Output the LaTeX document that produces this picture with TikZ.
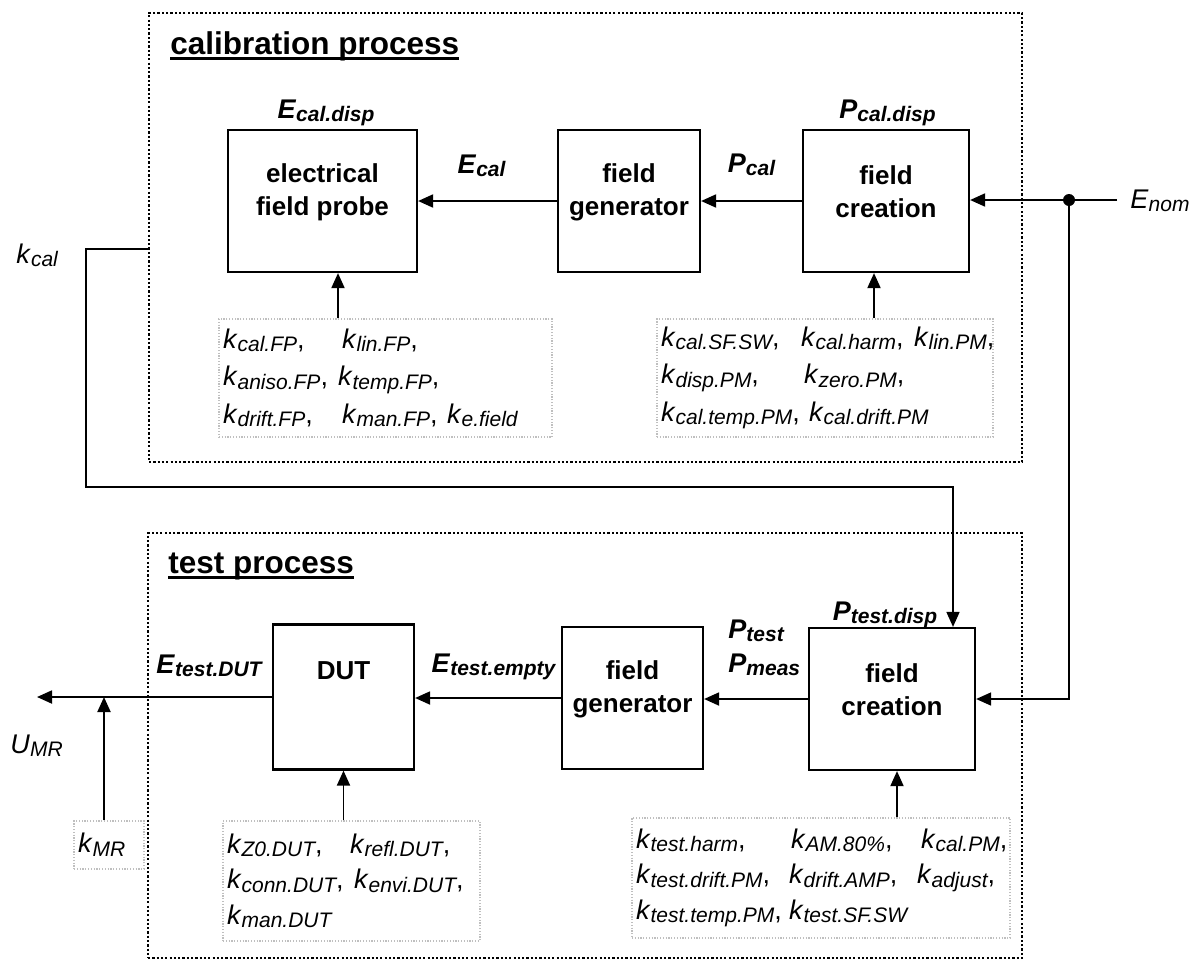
\documentclass[tikz,border=0pt]{standalone}
\usepackage{fontspec}
\setmainfont{Liberation Sans}
\usetikzlibrary{arrows.meta}
\newcommand{\ksym}[2]{\textit{#1}\raisebox{-1.8pt}{\fontsize{10.5}{12}\selectfont\itshape #2}}
\newcommand{\bsym}[2]{\textbf{\textit{#1}}\raisebox{-1.8pt}{\fontsize{10.5}{12}\selectfont\bfseries\itshape #2}}
\newcommand{\titleul}[1]{\setbox0\hbox{#1}\rlap{\rule[-3pt]{\wd0}{1.5pt}}\box0}

\begin{document}
\begin{tikzpicture}[x=0.5pt, y=-0.5pt, >={Triangle[length=7.5pt,width=6.5pt]},
		every node/.style={font=\fontsize{13.5}{18.75}\selectfont},
		blk/.style={draw, line width=1.1pt, minimum height=71pt, inner sep=0pt},
		blktext/.style={font=\fontsize{13}{16.5}\selectfont\bfseries, align=center},
		kbox/.style={draw=gray!50, line width=0.6pt, dash pattern=on 0.6pt off 0.8pt, align=left, inner xsep=2pt, inner ysep=0pt},
		frm/.style={draw, line width=1.1pt, dash pattern=on 1.1pt off 1.05pt, inner sep=0pt},
		conn/.style={->, line width=0.95pt},
		wire/.style={line width=0.8pt},
		ttl/.style={anchor=base west, inner sep=0pt, font=\fontsize{15.75}{18}\selectfont\bfseries}]
			\useasboundingbox (0,0) rectangle (1199,960);

			% Frames
			\node[frm, minimum width=436.5pt, minimum height=224.5pt] (calfrm) at (585.5,237.5) {};
			\node[frm, minimum width=437pt, minimum height=212.5pt] (testfrm) at (585,745.5) {};
			\node[ttl] (caltitle) at (170,54) {\titleul{calibration process}};
			\node[ttl] (testtitle) at (168,573) {\titleul{test process}};

			% Calibration blocks
			\node[blk, minimum width=94.5pt, label={[blktext, yshift=4.2pt]center:{electrical\\field probe}}] (probe) at (322.5,201) {};
			\node[blk, minimum width=71pt, label={[blktext, yshift=4.5pt]center:{field\\generator}}] (calgen) at (629,201) {};
			\node[blk, minimum width=83pt, label={[blktext, yshift=4.5pt]center:{field\\creation}}] (calcre) at (886,201) {};

			% Test blocks
			\node[blk, minimum width=70.5pt, minimum height=72.5pt, label={[blktext, yshift=13pt]center:{DUT}}] (dut) at (343.5,697) {};
			\node[blk, minimum width=70.5pt, label={[blktext, yshift=4.5pt]center:{field\\generator}}] (testgen) at (632.5,698) {};
			\node[blk, minimum width=83pt, label={[blktext, yshift=4.5pt]center:{field\\creation}}] (testcre) at (892,699) {};

			% Signal labels
			\node[anchor=base] (ecaldisp) at (326,118) {\bsym{E}{cal.disp}};
			\node[anchor=base] (ecal) at (481.5,173) {\bsym{E}{cal}};
			\node[anchor=base] (pcal) at (751.5,172) {\bsym{P}{cal}};
			\node[anchor=base] (pcaldisp) at (887.5,118) {\bsym{P}{cal.disp}};
			\node[anchor=base west, inner sep=0pt] (enom) at (1130,208) {\ksym{E}{nom}};
			\node[anchor=base west, inner sep=0pt] (kcal) at (16,263) {\ksym{k}{cal}};
			\node[anchor=base] (etestdut) at (209,673) {\bsym{E}{test.DUT}};
			\node[anchor=base] (etestempty) at (493.5,672) {\bsym{E}{test.empty}};
			\node[anchor=base west, inner sep=0pt] (ptest) at (728,638) {\bsym{P}{test}};
			\node[anchor=base west, inner sep=0pt] (pmeas) at (728,672) {\bsym{P}{meas}};
			\node[anchor=base] (ptestdisp) at (885,620) {\bsym{P}{test.disp}};
			\node[anchor=base west, inner sep=0pt] (umr) at (10,753) {\ksym{U}{MR}};

			% Uncertainty factors
			\node[kbox, text width=162.5pt, minimum height=59pt] (kfp) at (385.5,378) {%
				\makebox[59.5pt][l]{\ksym{k}{cal.FP},}\ksym{k}{lin.FP},\\
				\makebox[57.5pt][l]{\ksym{k}{aniso.FP},}\ksym{k}{temp.FP},\\
				\makebox[59.5pt][l]{\ksym{k}{drift.FP},}\makebox[52.5pt][l]{\ksym{k}{man.FP},}\ksym{k}{e.field}};
			\node[kbox, text width=164pt, minimum height=59pt] (kpm) at (825,378) {%
				\makebox[70pt][l]{\ksym{k}{cal.SF.SW},}\makebox[56.5pt][l]{\ksym{k}{cal.harm},}\ksym{k}{lin.PM},\\
				\makebox[71.5pt][l]{\ksym{k}{disp.PM},}\ksym{k}{zero.PM},\\
				\makebox[74pt][l]{\ksym{k}{cal.temp.PM},}\ksym{k}{cal.drift.PM}};
			\node[kbox, text width=124.5pt, minimum height=60pt, font=\fontsize{13.5}{17.75}\selectfont] (kdut) at (351.5,881) {%
				\makebox[61.5pt][l]{\ksym{k}{Z0.DUT},}\ksym{k}{refl.DUT},\\
				\makebox[63.5pt][l]{\ksym{k}{conn.DUT},}\ksym{k}{envi.DUT},\\
				\ksym{k}{man.DUT}};
			\node[kbox, text width=185pt, minimum height=60pt, font=\fontsize{13.5}{17.75}\selectfont] (ktest) at (821,878) {%
				\makebox[77.5pt][l]{\ksym{k}{test.harm},}\makebox[65pt][l]{\ksym{k}{AM.80\%},}\ksym{k}{cal.PM},\\
				\makebox[76.5pt][l]{\ksym{k}{test.drift.PM},}\makebox[64pt][l]{\ksym{k}{drift.AMP},}\ksym{k}{adjust},\\
				\makebox[76.5pt][l]{\ksym{k}{test.temp.PM},}\ksym{k}{test.SF.SW}};
			\node[kbox, text width=31pt, minimum height=24pt] (kmr) at (109,845) {\ksym{k}{MR}};

			% Helper points
			\coordinate (enomend) at (1117,200);
			\coordinate (junc) at (1069,200);
			\coordinate (kcalend) at (86,249);
			\coordinate (kcalturn) at (953,487);
			\coordinate (uout) at (37,699);

			% Calibration chain
			\draw[conn] (enomend) -- (enomend -| calcre.east);
			\draw[conn] (calcre.west) -- (calgen.east);
			\draw[conn] (calgen.west) -- (probe.east);
			\draw[conn] ([xshift=7.75pt]probe.south |- kfp.north) -- ([xshift=7.75pt]probe.south);
			\draw[conn] ([xshift=-6pt]calcre.south |- kpm.north) -- ([xshift=-6pt]calcre.south);
			\fill (junc) circle (3pt);

			% Test chain
			\draw[wire, ->] (junc) |- (testcre.east);
			\draw[wire, ->] (calfrm.west |- kcalend) -- (kcalend) |- (kcalturn) -- (kcalturn |- testcre.north);
			\draw[conn] (testcre.west) -- (testcre.west -| testgen.east);
			\draw[conn] (testgen.west) -- (testgen.west -| dut.east);
			\draw[conn] (dut.west) -- (dut.west -| uout);
			\draw[conn] (dut.south |- kdut.north) -- (dut.south);
			\draw[conn] ([xshift=2.5pt]testcre.south |- ktest.north) -- ([xshift=2.5pt]testcre.south);
			\draw[conn] ([xshift=-2.5pt]kmr.north) -- ([xshift=-2.5pt]kmr.north |- dut.west);
		\end{tikzpicture}
\end{document}
